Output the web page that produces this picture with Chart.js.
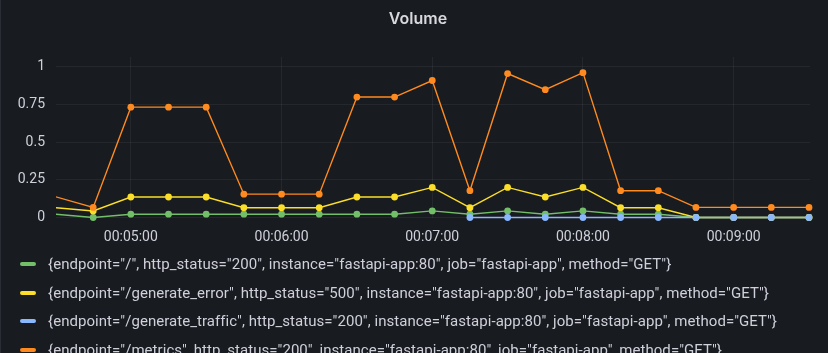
<!DOCTYPE html>
<html>
<head>
<meta charset="utf-8">
<title>Volume</title>
<script src="https://cdn.jsdelivr.net/npm/chart.js@4/dist/chart.umd.min.js"></script>
<style>
  body { margin: 0; background: #181b1f; overflow: hidden; font-family: Roboto, "Open Sans", sans-serif; }
  .panel { position: relative; width: 828px; height: 353px; border-left: 1px solid #2a2d33; box-sizing: border-box; }
  #chart { position: absolute; left: 0; top: 0; }
  .title { position: absolute; top: 8px; left: 0; width: 834px; text-align: center; color: #d8d9de; font: 600 16px Inter, Roboto, sans-serif; }
  .legend { position: absolute; left: 19px; top: 250px; }
  .legend-item { height: 28.5px; display: flex; align-items: center; color: #d0d0dc; font-size: 15px; letter-spacing: 0.05px; white-space: nowrap; }
  .swatch { width: 16px; height: 4px; border-radius: 2px; margin-right: 12px; }
</style>
</head>
<body>
<div class="panel">
  <canvas id="chart" width="828" height="353"></canvas>
  <div class="title">Volume</div>
  <div class="legend" id="legend"></div>
</div>
<script>
// time of each sample (15s steps)
const times = ['00:04:30','00:04:45','00:05:00','00:05:15','00:05:30','00:05:45','00:06:00','00:06:15','00:06:30','00:06:45','00:07:00',
  '00:07:15','00:07:30','00:07:45','00:08:00','00:08:15','00:08:30','00:08:45','00:09:00','00:09:15','00:09:30']
const xTicks = ['00:05:00','00:06:00','00:07:00','00:08:00','00:09:00']
const yTicks = [0, 0.25, 0.5, 0.75, 1]

const seriesNames = [
  '{endpoint="/", http_status="200", instance="fastapi-app:80", job="fastapi-app", method="GET"}',
  '{endpoint="/generate_error", http_status="500", instance="fastapi-app:80", job="fastapi-app", method="GET"}',
  '{endpoint="/generate_traffic", http_status="200", instance="fastapi-app:80", job="fastapi-app", method="GET"}',
  '{endpoint="/metrics", http_status="200", instance="fastapi-app:80", job="fastapi-app", method="GET"}'
]
const seriesColors = ['#73bf69', '#fade2a', '#8ab8ff', '#ff8a1f']

const rootValues = [0.022, 0, 0.022, 0.022, 0.022, 0.022, 0.022, 0.022, 0.022, 0.022, 0.044,
  0.022, 0.044, 0.022, 0.044, 0.022, 0.022, 0, 0, 0, 0]
const errorValues = [0.065, 0.043, 0.136, 0.136, 0.136, 0.065, 0.065, 0.065, 0.136, 0.136, 0.2,
  0.065, 0.2, 0.136, 0.2, 0.065, 0.065, 0, 0, 0, 0]
const trafficValues = [null, null, null, null, null, null, null, null, null, null, null,
  0, 0, 0, 0, 0, 0, 0, 0, 0, 0]
const metricsValues = [0.138, 0.067, 0.733, 0.733, 0.733, 0.155, 0.155, 0.155, 0.8, 0.8, 0.91,
  0.178, 0.956, 0.849, 0.962, 0.178, 0.178, 0.067, 0.067, 0.067, 0.067]

const allValues = [rootValues, errorValues, trafficValues, metricsValues]

function toSec(t) {
  const p = t.split(':').map(Number)
  return p[0] * 3600 + p[1] * 60 + p[2]
}
function fmtTime(s) {
  const pad = n => String(n).padStart(2, '0')
  return pad(Math.floor(s / 3600)) + ':' + pad(Math.floor(s / 60) % 60) + ':' + pad(s % 60)
}

const xMin = toSec(times[0]) + 0.2
const xMax = toSec(times[times.length - 1]) + 0.4

const datasets = allValues.map((vals, i) => ({
  label: seriesNames[i],
  data: vals.map((v, j) => ({ x: toSec(times[j]), y: v })),
  borderColor: seriesColors[i],
  backgroundColor: seriesColors[i],
  borderWidth: 1.4,
  // samples left of the visible range only show as line
  pointRadius: ctx => (ctx.raw && ctx.raw.x < xMin) ? 0 : 3.4,
  pointBorderWidth: 0,
  pointHoverRadius: 3.4,
  tension: 0,
  spanGaps: false,
  order: 3 - i,   // later series on top like grafana
  clip: { left: 0, right: 6, top: 6, bottom: 6 }
}))

const gridColor = 'rgba(204, 204, 220, 0.07)'
const tickColor = '#d0d0dc'

new Chart(document.getElementById('chart'), {
  type: 'line',
  data: { datasets },
  options: {
    responsive: false,
    animation: false,
    devicePixelRatio: 1,
    layout: { padding: { top: 57, right: 19, left: 0, bottom: 0 } },
    plugins: { legend: { display: false }, title: { display: false }, tooltip: { enabled: false } },
    scales: {
      x: {
        type: 'linear',
        min: xMin,
        max: xMax,
        afterBuildTicks: s => { s.ticks = xTicks.map(t => ({ value: toSec(t) })) },
        afterFit: s => { s.height = 353 - 217.5 },
        border: { display: false },
        grid: { color: gridColor, drawTicks: false },
        ticks: { color: tickColor, font: { family: 'Roboto', size: 14 }, padding: 12, maxRotation: 0,
          callback: v => fmtTime(v) }
      },
      y: {
        min: 0,
        max: 1.066,
        afterBuildTicks: s => { s.ticks = yTicks.map(v => ({ value: v })) },
        afterFit: s => { s.width = 55 },
        border: { display: false },
        grid: { color: gridColor, drawTicks: false },
        ticks: { color: tickColor, font: { family: 'Roboto', size: 14 }, padding: 11,
          callback: v => String(v) }
      }
    }
  }
})

// legend list under the plot
const legend = document.getElementById('legend')
seriesNames.forEach((name, i) => {
  const item = document.createElement('div')
  item.className = 'legend-item'
  item.innerHTML = '<span class="swatch" style="background:' + seriesColors[i] + '"></span>'
  const txt = document.createElement('span')
  txt.textContent = name
  item.appendChild(txt)
  legend.appendChild(item)
})
</script>
</body>
</html>
